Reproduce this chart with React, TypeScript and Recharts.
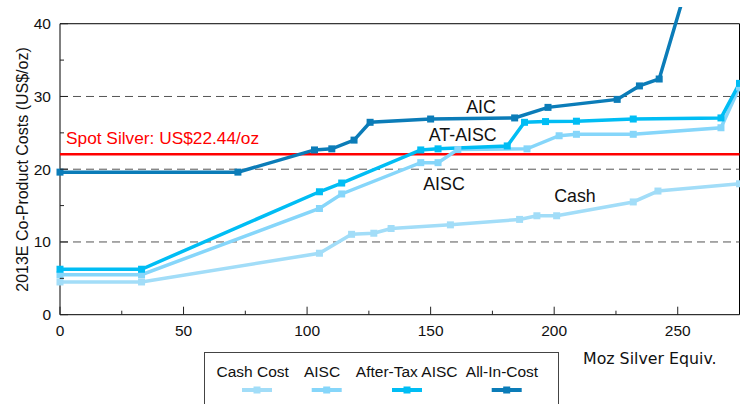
import { LineChart, Line, XAxis, YAxis, ReferenceLine, ReferenceArea, ReferenceDot } from "recharts"

// cumulative production (Moz Ag eq.) and co-product cost (US$/oz)
const cashX = [0, 33, 105, 118, 127, 134, 158, 186, 193, 201, 232, 242, 275]
const cashY = [4.5, 4.5, 8.45, 11.05, 11.2, 11.85, 12.35, 13.1, 13.6, 13.6, 15.5, 17.0, 18.0]

const aiscX = [0, 33, 105, 114, 146, 153, 161, 189, 202, 209, 232, 267.5, 275]
const aiscY = [5.5, 5.5, 14.6, 16.6, 20.9, 20.9, 22.7, 22.8, 24.6, 24.8, 24.8, 25.7, 31.3]

const atAiscX = [0, 33, 105, 114, 146, 153, 181, 188, 196.5, 209, 232, 267.5, 275]
const atAiscY = [6.25, 6.25, 16.9, 18.1, 22.65, 22.8, 23.2, 26.45, 26.55, 26.6, 26.9, 27.05, 31.8]

const aicX = [0, 72, 103, 110, 119, 125.5, 150, 184, 197.5, 225.5, 234.5, 242.5, 260]
const aicY = [19.6, 19.6, 22.65, 22.8, 24.0, 26.45, 26.9, 27.05, 28.5, 29.6, 31.45, 32.4, 52.5]

const spotSilver = 22.05
const spotLabel = "Spot Silver: US$22.44/oz"

const xTicks = [0, 25, 50, 75, 100, 125, 150, 175, 200, 225, 250]
const yTicks = [0, 5, 10, 15, 20, 25, 30, 35, 40]
const gridValues = [10, 20, 30]

const seriesNames = ["Cash Cost", "AISC", "After-Tax AISC", "All-In-Cost"]
const COLORS = ["#a2ddf8", "#86d6fa", "#00bdf4", "#0b7cb8"]

// in-chart series tags (data coordinates)
const tags = [
  { text: "AIC", x: 170.4, y: 28.6 },
  { text: "AT-AISC", x: 163, y: 24.7 },
  { text: "AISC", x: 155.4, y: 18.0 },
  { text: "Cash", x: 208.4, y: 16.3 },
]

const FONT = "'Liberation Sans', Arial, sans-serif"

const toPoints = (xs: number[], ys: number[]) => xs.map((x, i) => ({ x, y: ys[i] }))
const series = [
  toPoints(cashX, cashY),
  toPoints(aiscX, aiscY),
  toPoints(atAiscX, atAiscY),
  toPoints(aicX, aicY),
]

const squareDot = (color: string) => (props: any) => {
  const { cx, cy, index } = props
  if (cx == null || cy == null) return <g key={index} />
  return <rect key={index} x={cx - 3.5} y={cy - 3.5} width={7} height={7} fill={color} />
}

const YTick = ({ x, y, payload }: any) => {
  const major = payload.value % 10 === 0
  return (
    <g>
      <line x1={x} x2={x + (major ? 8 : 4)} y1={y} y2={y} stroke="#222" />
      {major && (
        <text x={x - 9} y={y + 5.5} textAnchor="end" fontSize={15.5} fill="#111" fontFamily={FONT}>
          {payload.value}
        </text>
      )}
    </g>
  )
}

const XTick = ({ x, y, payload }: any) => {
  const major = payload.value % 50 === 0
  return (
    <g>
      <line x1={x} x2={x} y1={y} y2={y - (major ? 8 : 4)} stroke="#222" />
      {major && (
        <text x={x} y={y + 21} textAnchor="middle" fontSize={15.5} fill="#111" fontFamily={FONT}>
          {payload.value}
        </text>
      )}
    </g>
  )
}

const legendTextX = [48.7, 118, 202.7, 298]
const legendMarkX = [53, 122.7, 203, 302.7]

const App = () => {
  return (
    <div style={{ position: "absolute", left: 0, top: 0, width: 740, height: 404, background: "#fff" }}>
      <LineChart width={740} height={404} margin={{ top: 7, right: 0.5, left: 0, bottom: 0 }}>
        <XAxis
          type="number"
          dataKey="x"
          domain={[0, 275]}
          ticks={xTicks}
          interval={0}
          tick={<XTick />}
          tickLine={false}
          axisLine={false}
          tickSize={0}
          tickMargin={0}
          height={89.3}
          label={() => (
            <text x={583} y={363.5} fontSize={15.8} fill="#111" fontFamily="'DejaVu Sans', Verdana, sans-serif">
              Moz Silver Equiv.
            </text>
          )}
        />
        <YAxis
          type="number"
          domain={[0, 42.3]}
          allowDataOverflow
          ticks={yTicks}
          interval={0}
          tick={<YTick />}
          tickLine={false}
          axisLine={false}
          tickSize={0}
          tickMargin={0}
          width={60}
          label={() => (
            <text
              x={22}
              y={169.5}
              transform="rotate(-90, 22, 169.5)"
              textAnchor="middle"
              dominantBaseline="central"
              fontSize={16}
              fill="#111"
              fontFamily={FONT}
            >
              2013E Co-Product Costs (US$/oz)
            </text>
          )}
        />
        {gridValues.map((v) => (
          <ReferenceLine key={v} y={v} stroke="#555" strokeDasharray="8 5" />
        ))}
        <ReferenceArea x1={0} x2={275} y1={0} y2={40} fill="none" stroke="#000" strokeWidth={1} />
        <ReferenceLine
          y={spotSilver}
          stroke="#ff0000"
          strokeWidth={2.5}
          label={({ viewBox }: any) => (
            <text x={viewBox.x + 6} y={viewBox.y - 10} fontSize={17.3} fill="#ff0000" fontFamily={FONT}>
              {spotLabel}
            </text>
          )}
        />
        {series.map((pts, i) => (
          <Line
            key={seriesNames[i]}
            name={seriesNames[i]}
            data={pts}
            dataKey="y"
            type="linear"
            stroke={COLORS[i]}
            strokeWidth={3.5}
            dot={squareDot(COLORS[i])}
            activeDot={false}
            isAnimationActive={false}
          />
        ))}
        {tags.map((t) => (
          <ReferenceDot
            key={t.text}
            x={t.x}
            y={t.y}
            r={0}
            fill="none"
            stroke="none"
            label={({ viewBox }: any) => (
              <text
                x={viewBox.x + viewBox.width / 2}
                y={viewBox.y + viewBox.height / 2}
                textAnchor="middle"
                dominantBaseline="central"
                fontSize={17.8}
                fill="#111"
                fontFamily={FONT}
              >
                {t.text}
              </text>
            )}
          />
        ))}
      </LineChart>
      <div
        style={{
          position: "absolute",
          left: 204,
          top: 352,
          width: 355,
          height: 60,
          border: "1px solid #444",
          boxSizing: "border-box",
          background: "#fff",
        }}
      >
        <svg width={355} height={60} style={{ position: "absolute", left: -1, top: -1 }}>
          {seriesNames.map((name, i) => (
            <g key={name}>
              <text x={legendTextX[i]} y={25.3} textAnchor="middle" fontSize={15.5} fill="#111" fontFamily={FONT}>
                {name}
              </text>
              <line
                x1={legendMarkX[i] - 15}
                x2={legendMarkX[i] + 15}
                y1={38}
                y2={38}
                stroke={COLORS[i]}
                strokeWidth={4}
              />
              <rect x={legendMarkX[i] - 3.5} y={34.5} width={7} height={7} fill={COLORS[i]} />
            </g>
          ))}
        </svg>
      </div>
    </div>
  )
}

export default App
